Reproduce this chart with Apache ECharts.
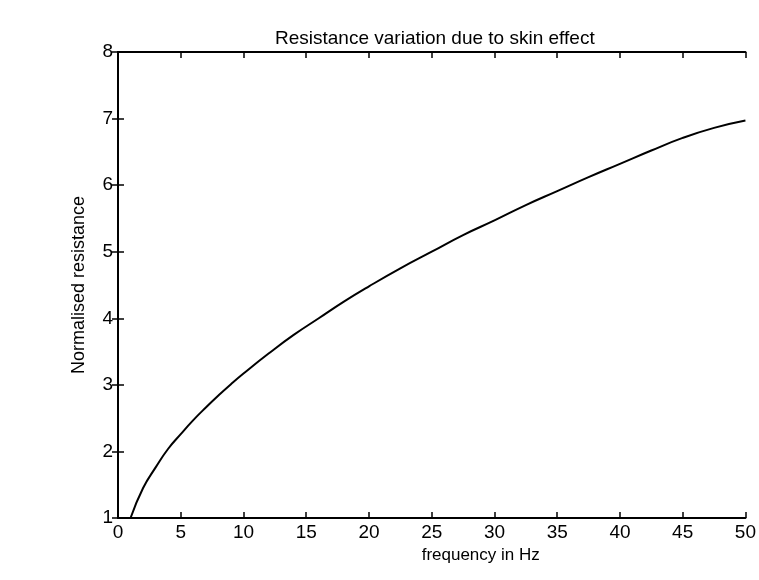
<!DOCTYPE html>
<html>
<head>
<meta charset="utf-8">
<script src="https://cdn.jsdelivr.net/npm/echarts@6/dist/echarts.min.js"></script>
<style>
html,body{margin:0;padding:0;background:#fff;}
#chart{width:759px;height:580px;}
</style>
</head>
<body>
<div id="chart"></div>
<script>
// Data
var frequency = [1, 2, 3, 4, 5, 6, 7, 8, 9, 10, 12, 14, 16, 18, 20, 22.5, 25, 27.5, 30, 32.5, 35, 37.5, 40, 42.5, 45, 47.5, 50];
var resistance = [1.0, 1.45, 1.76, 2.04, 2.26, 2.47, 2.66, 2.84, 3.01, 3.17, 3.47, 3.75, 4.0, 4.25, 4.48, 4.75, 5.0, 5.25, 5.47, 5.7, 5.91, 6.12, 6.32, 6.52, 6.71, 6.86, 6.97];
var xTickLabels = ['0', '5', '10', '15', '20', '25', '30', '35', '40', '45', '50'];
var yTickLabels = ['1', '2', '3', '4', '5', '6', '7', '8'];

var titleText = 'Resistance variation due to skin effect';
var xName = 'frequency in Hz';
var yName = 'Normalised resistance';

var points = frequency.map(function (f, i) { return [f, resistance[i]]; });

var axisLine = { lineStyle: { color: '#000', width: 2 } };
var tick = { inside: true, length: 6, lineStyle: { color: '#000', width: 1.5 } };
var fontFam = 'Liberation Sans, Arial, sans-serif';

var chart = echarts.init(document.getElementById('chart'), null, { renderer: 'canvas' });
chart.setOption({
  backgroundColor: '#fff',
  animation: false,
  title: {
    text: titleText,
    left: 270,
    top: 24,
    textStyle: { fontFamily: fontFam, fontSize: 19, fontWeight: 'normal', color: '#000' }
  },
  grid: { left: 118, right: 6, top: 52, bottom: 62, containLabel: false },
  xAxis: [{
    type: 'value', min: 0, max: 50, interval: 5, position: 'bottom',
    name: xName, nameLocation: 'middle', nameGap: 29,
    nameTextStyle: { fontFamily: fontFam, fontSize: 17, color: '#000', padding: [0, 0, 0, 98] },
    axisLine: axisLine,
    axisTick: tick,
    axisLabel: { fontFamily: fontFam, fontSize: 19, color: '#000', margin: 5,
      formatter: function (v) { return xTickLabels[Math.round(v / 5)]; } },
    splitLine: { show: false }
  }, {
    type: 'value', min: 0, max: 50, interval: 5, position: 'top',
    axisLine: axisLine,
    axisTick: tick,
    axisLabel: { show: false },
    splitLine: { show: false }
  }],
  yAxis: [{
    type: 'value', min: 1, max: 8, interval: 1, position: 'left',
    name: yName, nameLocation: 'middle', nameGap: 30, nameRotate: 90,
    nameTextStyle: { fontFamily: fontFam, fontSize: 18, color: '#000' },
    axisLine: axisLine,
    axisTick: tick,
    axisLabel: { fontFamily: fontFam, fontSize: 19, color: '#000', margin: 5,
      formatter: function (v) { return yTickLabels[Math.round(v - 1)]; } },
    splitLine: { show: false }
  }, {
    type: 'value', min: 1, max: 8, interval: 1, position: 'right',
    axisLine: axisLine,
    axisTick: tick,
    axisLabel: { show: false },
    splitLine: { show: false }
  }],
  series: [{
    type: 'line',
    data: points,
    xAxisIndex: 0,
    yAxisIndex: 0,
    smooth: true,
    showSymbol: false,
    lineStyle: { color: '#000', width: 2 }
  }]
});
</script>
</body>
</html>
